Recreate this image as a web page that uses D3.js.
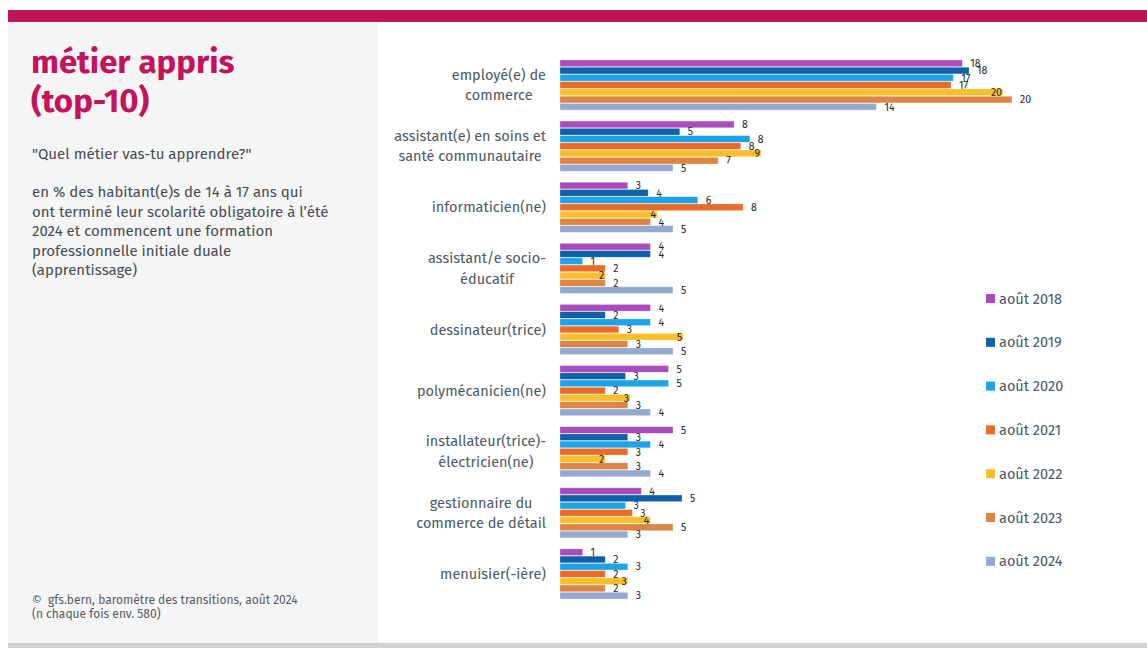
<!DOCTYPE html>
<html lang="fr">
<head>
<meta charset="utf-8">
<title>métier appris (top-10)</title>
<script src="https://cdn.jsdelivr.net/npm/d3@7"></script>
<style>
  html, body { margin: 0; padding: 0; background: #ffffff; }
  svg { display: block; font-family: "Fira Sans", Lato, "Open Sans", sans-serif; }
</style>
</head>
<body>
<svg id="chart" width="1147" height="648"></svg>
<script>
// Apprenticeship trades (labels use "\n" for line breaks)
const categories = [
  "employé(e) de\ncommerce",
  "assistant(e) en soins et\nsanté communautaire",
  "informaticien(ne)",
  "assistant/e socio-\néducatif",
  "dessinateur(trice)",
  "polymécanicien(ne)",
  "installateur(trice)-\nélectricien(ne)",
  "gestionnaire du\ncommerce de détail",
  "menuisier(-ière)"
];

const seriesNames = ["août 2018", "août 2019", "août 2020", "août 2021", "août 2022", "août 2023", "août 2024"];

// Shares in % per survey wave, same order as categories
const values2018 = [17.8, 7.7, 3.0, 4.0, 4.0, 4.8, 5.0, 3.6, 1.0];
const values2019 = [18.1, 5.3, 3.9, 4.0, 2.0, 2.9, 3.0, 5.4, 2.0];
const values2020 = [17.4, 8.4, 6.1, 1.0, 4.0, 4.8, 4.0, 2.9, 3.0];
const values2021 = [17.3, 8.0, 8.1, 2.0, 2.6, 2.0, 3.0, 3.2, 2.0];
const values2022 = [19.6, 8.9, 4.3, 2.0, 5.45, 3.1, 2.0, 4.0, 3.0];
const values2023 = [20.0, 7.0, 4.0, 2.0, 3.0, 3.0, 3.0, 5.0, 2.0];
const values2024 = [14.0, 5.0, 5.0, 5.0, 5.0, 4.0, 4.0, 3.0, 3.0];

const seriesValues = [values2018, values2019, values2020, values2021, values2022, values2023, values2024];
const seriesColors = ["#a94bbd", "#0f5fa9", "#1fa3e8", "#e86b27", "#fbbe2b", "#dd8542", "#95a9d0"];

const svg = d3.select("#chart");

// ---- page frame ----
svg.append("rect").attr("x", 8).attr("y", 22).attr("width", 370).attr("height", 621).attr("fill", "#f5f5f5");
svg.append("rect").attr("x", 8).attr("y", 10).attr("width", 1139).attr("height", 12).attr("fill", "#c4135c");
svg.append("rect").attr("x", 8).attr("y", 643).attr("width", 1139).attr("height", 5).attr("fill", "#d0d1d0");

// ---- left text panel ----
const title = svg.append("text").attr("fill", "#c4135c").attr("font-weight", 700).attr("font-size", 33);
title.append("tspan").attr("x", 31).attr("y", 73).text("métier appris");
title.append("tspan").attr("x", 31).attr("y", 112).text("(top-10)");

svg.append("text").attr("x", 32).attr("y", 159).attr("font-size", 15).attr("fill", "#474c52")
  .text("\"Quel métier vas-tu apprendre?\"");

const para = [
  "en % des habitant(e)s de 14 à 17 ans qui",
  "ont terminé leur scolarité obligatoire à l’été",
  "2024 et commencent une formation",
  "professionnelle initiale duale",
  "(apprentissage)"
];
svg.append("g").selectAll("text").data(para).join("text")
  .attr("x", 32).attr("y", (d, i) => 197 + i * 19.6)
  .attr("font-size", 15).attr("fill", "#474c52").text(d => d);

const foot = svg.append("text").attr("font-size", 12).attr("fill", "#555b61");
foot.append("tspan").attr("x", 32).attr("y", 604).attr("xml:space", "preserve").text("©  gfs.bern, baromètre des transitions, août 2024");
foot.append("tspan").attr("x", 32).attr("y", 618).text("(n chaque fois env. 580)");

// ---- bar chart ----
const y = d3.scaleBand().domain(categories).range([54.5, 604.5]).paddingInner(0.18).paddingOuter(0.09);
const ySub = d3.scaleBand().domain(seriesNames).range([0, y.bandwidth()]).paddingInner(0.08);
const x = d3.scaleLinear().domain([0, 20]).range([560, 1012]);
const fmt = d3.format(".0f");

const rows = [];
categories.forEach((c, ci) => {
  seriesNames.forEach((s, si) => {
    rows.push({ cat: c, series: s, si, value: seriesValues[si][ci] });
  });
});

const groups = svg.append("g");
groups.selectAll("rect").data(rows).join("rect")
  .attr("x", x(0))
  .attr("y", d => y(d.cat) + ySub(d.series))
  .attr("width", d => x(d.value) - x(0))
  .attr("height", ySub.bandwidth())
  .attr("fill", d => seriesColors[d.si])
  .attr("stroke", "#ffffff").attr("stroke-opacity", 0.45).attr("stroke-width", 0.6);

// value labels: outside the bar end; the 2022 wave sits on the bar end
groups.selectAll("text.val").data(rows).join("text")
  .attr("class", "val")
  .attr("x", d => d.series === "août 2022" ? x(d.value) - 1 : x(d.value) + 8)
  .attr("y", d => y(d.cat) + ySub(d.series) + ySub.bandwidth() / 2)
  .attr("dy", "0.36em")
  .attr("text-anchor", d => d.series === "août 2022" ? "end" : "start")
  .attr("font-size", 10.5).attr("fill", "#262626")
  .text(d => fmt(d.value));

// category labels, each block centred on its own width, right edge at 546
const catG = svg.append("g");
categories.forEach(c => {
  const lines = c.split("\n");
  const cy = y(c) + y.bandwidth() / 2;
  const t = catG.append("text").attr("font-size", 14.5).attr("fill", "#4c5864").attr("text-anchor", "middle");
  const spans = lines.map((l, i) => t.append("tspan")
    .attr("y", cy + 5 + (i - (lines.length - 1) / 2) * 20.5).text(l));
  const maxW = d3.max(spans, s => s.node().getComputedTextLength());
  spans.forEach(s => s.attr("x", 546 - maxW / 2));
});

// legend
const leg = svg.append("g").selectAll("g").data(seriesNames).join("g")
  .attr("transform", (d, i) => `translate(986, ${298.5 + i * 43.8})`);
leg.append("rect").attr("x", 0).attr("y", -4.5).attr("width", 9).attr("height", 9)
  .attr("fill", (d, i) => seriesColors[i]);
leg.append("text").attr("x", 13).attr("dy", "0.35em").attr("font-size", 14.5).attr("fill", "#4c5864").text(d => d);
</script>
</body>
</html>
